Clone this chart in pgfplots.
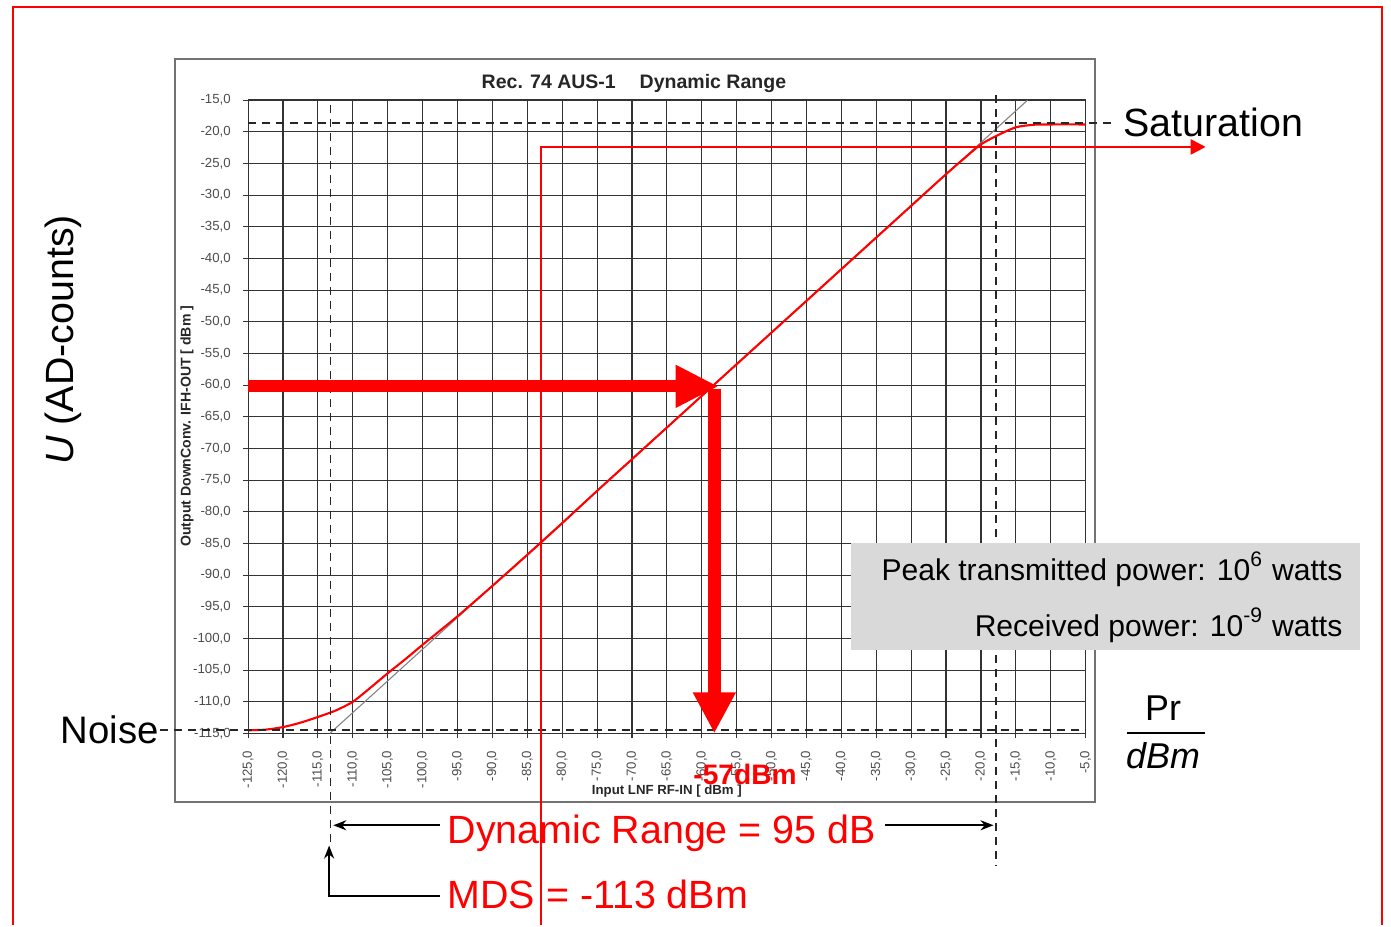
\documentclass[border=0pt]{standalone}
\usepackage{fontspec}
\setmainfont{Liberation Sans}
\usepackage{pgfplots}
\pgfplotsset{compat=1.18}
\usetikzlibrary{arrows.meta}
\newcommand\fs[1]{\fontsize{#1}{#1}\selectfont}
\begin{document}
\begin{tikzpicture}
\begin{scope}[x=0.01cm,y=-0.01cm,shift={(0,9.25cm)}]
\useasboundingbox (0,0) rectangle (1391,925);
\draw[red, line width=0.6pt] (13,925) -- (13,7) -- (1382,7) -- (1382,925);
\draw[black!55, line width=0.45pt] (175,59) rectangle (1095,802);
\end{scope}
\begin{axis}[
  at={(2.48cm,1.92cm)}, anchor=south west,
  scale only axis, width=8.37cm, height=6.33cm,
  xmin=-125, xmax=-5, ymin=-115, ymax=-15,
  xtick={-125,-120,...,-5}, ytick={-115,-110,...,-15},
  grid=major, major grid style={black!80, line width=0.32pt},
  axis line style={black!80, line width=0.35pt},
  tick align=outside, major tick length=0.05cm,
  tick style={black!80, line width=0.32pt}, tick pos=left,
  /pgf/number format/assume math mode=true,
  /pgf/number format/fixed, /pgf/number format/fixed zerofill,
  /pgf/number format/precision=1, /pgf/number format/use comma,
  ticklabel style={font=\fs{3.76}, text=black!70},
  xticklabel style={rotate=90, anchor=east},
  xlabel={Input LNF RF-IN [ dBm ]},
  ylabel={Output DownConv. IFH-OUT [ dBm ]},
  xlabel style={at={(axis description cs:0.5,-0.0916)}, anchor=center, font=\bfseries\fs{3.76}, text=black!85},
  ylabel style={at={(axis description cs:-0.0729,0.485)}, anchor=center, font=\bfseries\fs{4.0}, text=black!85},
  clip=false,
]
\addplot[black!50, line width=0.3pt] coordinates {(-113.3,-115) (-13.3,-15)};
\addplot[red, line width=0.6pt, smooth, tension=0.4] coordinates {
(-125,-114.5) (-122.5,-114.4) (-120,-114.0) (-117.5,-113.3) (-115,-112.4)
(-112.5,-111.4) (-110,-110.0) (-107.5,-107.8) (-105,-105.5) (-102.5,-103.3)
(-100,-101.0) (-95,-96.5) (-90,-91.7) (-85,-86.8) (-80,-81.8) (-75,-76.7)
(-70,-71.7) (-65,-66.7) (-60,-61.7) (-55,-56.7) (-50,-51.7) (-45,-46.7)
(-40,-41.7) (-35,-36.7) (-30,-31.7) (-25,-26.7) (-22.5,-24.3) (-20,-22.0)
(-17.5,-20.5) (-15,-19.3) (-12.5,-18.9) (-10,-18.85) (-5,-18.85)};
% dashed reference lines
\draw[black!85, line width=0.55pt, dash pattern=on 0.08cm off 0.06cm] (-125,-18.6) -- (-1.4,-18.6);
\draw[black!85, line width=0.55pt, dash pattern=on 0.08cm off 0.06cm] (-137.6,-114.4) -- (-5,-114.4);
\draw[black!85, line width=0.55pt, dash pattern=on 0.08cm off 0.06cm] (-113.2,-15.8) -- (-113.2,-132.4);
\draw[black!85, line width=0.55pt, dash pattern=on 0.08cm off 0.06cm] (-17.9,-14.2) -- (-17.9,-135.9);
% thin red arrow
\draw[red, line width=0.7pt, -{Triangle[length=0.15cm,width=0.15cm]}] (-83,-145.3) -- (-83,-22.4) -- (12.2,-22.4);
% thick red arrows
\draw[red, line width=0.12cm, -{Triangle[length=0.43cm,width=0.40cm]}] (-125,-60.2) -- (-57.6,-60.2);
\draw[red, line width=0.13cm, -{Triangle[length=0.41cm,width=0.40cm]}] (-58.2,-60.6) -- (-58.2,-115);
% black arrows
\draw[black, line width=0.6pt, -{Stealth[length=0.13cm,width=0.1cm]}] (-97.5,-129.5) -- (-112.8,-129.5);
\draw[black, line width=0.6pt, -{Stealth[length=0.13cm,width=0.1cm]}] (-33.7,-129.5) -- (-18.2,-129.5);
\draw[black, line width=0.6pt, -{Stealth[length=0.13cm,width=0.1cm]}] (-97.5,-140.6) -- (-113.4,-140.6) -- (-113.4,-132.7);
\end{axis}
\begin{scope}[x=0.01cm,y=-0.01cm,shift={(0,9.25cm)}]
\fill[black!15] (851,543) rectangle (1360,650);
\node[anchor=base west, inner sep=0, font=\bfseries\fs{5.55}, text=black!85] at (481,88) {Rec. 74 AUS-1};
\node[anchor=base west, inner sep=0, font=\bfseries\fs{5.55}, text=black!85] at (639,88) {Dynamic Range};
\node[anchor=base west, inner sep=0, font=\fs{11.2}] at (1123,136) {Saturation};
\node[anchor=base west, inner sep=0, font=\fs{10.9}] at (60,743) {Noise};
\node[anchor=base, rotate=90, inner sep=0, font=\fs{11.2}] at (73,340) {\textit{U} (AD-counts)};
\node[anchor=base west, inner sep=0, font=\fs{11.2}, text=red] at (447,843) {Dynamic Range = 95 dB};
\node[anchor=base west, inner sep=0, font=\fs{11.2}, text=red] at (447,908) {MDS = -113 dBm};
\node[anchor=base, inner sep=0, font=\bfseries\fs{8.0}, text=red] at (745,784) {-57dBm};
\node[anchor=base, inner sep=0, font=\fs{10.2}] at (1163,720) {Pr};
\node[anchor=base, inner sep=0, font=\itshape\fs{10.2}] at (1163,768) {dBm};
\draw[black, line width=0.6pt] (1127,733) -- (1205,733);
\node[anchor=base east, inner sep=0, font=\fs{8.55}] at (1343,580) {Peak transmitted power: 10\textsuperscript{6} watts};
\node[anchor=base east, inner sep=0, font=\fs{8.55}] at (1343,636) {Received power: 10\textsuperscript{-9} watts};
\end{scope}
\end{tikzpicture}
\end{document}
